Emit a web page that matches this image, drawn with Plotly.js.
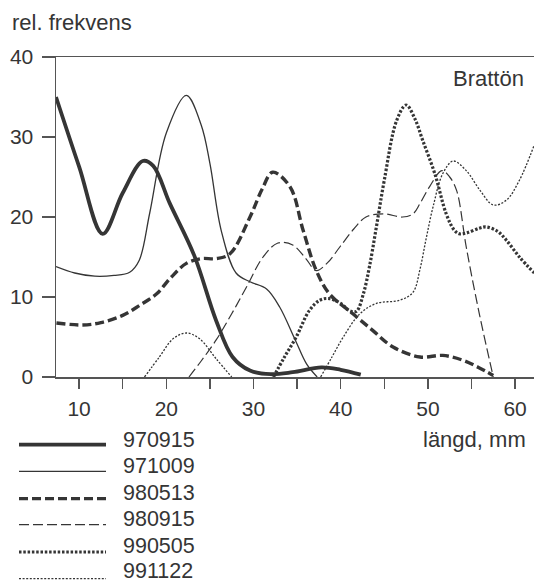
<!DOCTYPE html>
<html>
<head>
<meta charset="utf-8">
<script src="https://cdn.plot.ly/plotly-3.0.1.min.js"></script>
<style>
html,body{margin:0;padding:0;background:#fff;}
#chart{width:534px;height:584px;}
</style>
</head>
<body>
<div id="chart"></div>
<script>
// ---- data ----
const seriesNames = ["970915", "971009", "980513", "980915", "990505", "991122"];

const x970915 = [7.35, 10, 12.7, 15, 17.3, 18.5, 20.4, 23.2, 25.7, 27.6, 29.6, 32, 34.5, 37.8, 40, 42.3];
const y970915 = [35, 26.3, 17.9, 23.0, 27, 26.4, 21.7, 15.2, 7.1, 2.5, 0.8, 0.35, 0.6, 1.2, 0.9, 0.3];

const x971009 = [7.35, 9.5, 11.8, 14, 15.8, 16.9, 18.1, 20, 22.3, 24, 25, 26.3, 28, 29.6, 31.5, 33, 34.8, 36.1, 37.3];
const y971009 = [13.8, 13.0, 12.6, 12.7, 13.1, 14.6, 20.5, 30.5, 35.2, 31.5, 26.7, 18.3, 13.0, 11.9, 11.0, 8.75, 4.6, 1.6, 0];

const x980513 = [7.4, 10.4, 12.5, 15, 17, 18.9, 20.5, 22.3, 24, 25.7, 27.3, 29.6, 31, 32.2, 34.2, 35.7, 37.2, 38.7, 41.4, 43.7, 46, 49.1, 51.7, 54, 55.8, 57.5];
const y980513 = [6.75, 6.5, 6.8, 7.7, 9, 10.4, 12.4, 14.2, 14.8, 14.8, 15.4, 20, 23.5, 25.6, 23.75, 18.3, 13.3, 10.4, 7.9, 5.8, 3.75, 2.5, 2.7, 2.1, 1.2, 0.2];

const x980915 = [22.6, 24, 25.7, 27.5, 29.2, 31.1, 32.8, 34.5, 36, 37.2, 38.5, 39.9, 41.5, 42.9, 44.9, 47.1, 48.3, 49.1, 50.2, 51.6, 52.5, 53.3, 54.4, 55.9, 57.5];
const y980915 = [0, 2, 4.6, 7.9, 11.25, 15, 16.75, 16.5, 14.8, 13.3, 14.3, 16.25, 18.5, 20, 20.4, 20, 20.4, 21.7, 23.8, 25.8, 25.0, 23.3, 16.25, 7.9, 0];

const x990505 = [32.3, 33.5, 34.9, 36.4, 37.6, 38.7, 40, 41, 41.8, 42.6, 43.3, 44.1, 45, 46.4, 47.5, 48.5, 49.4, 50.8, 52.1, 53, 53.6, 54.4, 55.9, 56.7, 58, 59, 60.5, 62.2];
const y990505 = [0, 2.4, 5, 8.3, 9.6, 9.8, 9.2, 8.3, 8.2, 10.4, 13.8, 18.8, 24.6, 32, 34, 32.3, 29.6, 25.4, 20.4, 18.4, 17.9, 18.0, 18.6, 18.75, 18.2, 17.1, 15, 13.0];

const x991122 = [17.5, 19.2, 20.8, 22.3, 23.8, 25.7, 27.5, null, 37.7, 39, 40.3, 42.2, 44.1, 46.8, 48.3, 49.1, 49.8, 50.6, 51.7, 52.9, 54.4, 56, 57.5, 59, 60.5, 62.2];
const y991122 = [0, 2.5, 4.8, 5.5, 4.8, 2.3, 0, null, 0, 2.5, 5, 7.9, 9.2, 9.6, 10.6, 13.5, 17.3, 21.3, 25.4, 27, 25.8, 23.3, 21.5, 22.1, 24.6, 29];

const xTickVals = [10, 15, 20, 25, 30, 35, 40, 45, 50, 55, 60];
const xTickText = ["10", "", "20", "", "30", "", "40", "", "50", "", "60"];
const yTickVals = [0, 10, 20, 30, 40];

const yTitle = "rel. frekvens";
const xTitle = "längd, mm";
const siteLabel = "Brattön";

// ---- styling ----
const ink = "#353535";
const axisInk = "#555555";
const FONT = "Liberation Sans, Arial, sans-serif";
const styles = [
  {width: 3.8, dash: "solid"},
  {width: 1.3, dash: "solid"},
  {width: 3.4, dash: "9px,4px"},
  {width: 1.2, dash: "10px,4px"},
  {width: 3.2, dash: "2.5px,1.8px"},
  {width: 1.3, dash: "2px,1.6px"}
];
const xs = [x970915, x971009, x980513, x980915, x990505, x991122];
const ys = [y970915, y971009, y980513, y980915, y990505, y991122];

const traces = seriesNames.map((name, i) => ({
  type: "scatter",
  mode: "lines",
  name: name,
  x: xs[i],
  y: ys[i],
  connectgaps: false,
  line: {color: ink, width: styles[i].width, dash: styles[i].dash, shape: "spline", smoothing: 1},
  showlegend: false,
  hoverinfo: "skip"
}));

// plot box in pixels
const W = 534, H = 584;
const L = 56, R = 534, T = 56.7, B = 376.7;
const px2x = p => (p - L) / (R - L);
const py2y = p => (B - p) / (B - T);

// hand-drawn style legend at the bottom-left
const legLineY = [444.3, 471, 498.3, 524.3, 551.7, 578.3];
const legTextY = [439.5, 466, 492.5, 519, 545.5, 571];
const shapes = [];
const annotations = [];
seriesNames.forEach((name, i) => {
  shapes.push({
    type: "line", xref: "paper", yref: "paper",
    x0: px2x(19), x1: px2x(106), y0: py2y(legLineY[i]), y1: py2y(legLineY[i]),
    line: {color: ink, width: styles[i].width, dash: styles[i].dash}
  });
  annotations.push({
    xref: "paper", yref: "paper", x: px2x(122), y: py2y(legTextY[i]),
    xanchor: "left", yanchor: "middle", showarrow: false, borderpad: 0,
    text: name, font: {family: FONT, size: 21.5, color: ink}
  });
});
annotations.push({
  xref: "paper", yref: "paper", x: px2x(10), y: py2y(22),
  xanchor: "left", yanchor: "middle", showarrow: false,
  text: yTitle, font: {family: FONT, size: 22, color: ink}
});
annotations.push({
  xref: "paper", yref: "paper", x: px2x(526), y: py2y(78),
  xanchor: "right", yanchor: "middle", showarrow: false,
  text: siteLabel, font: {family: FONT, size: 22, color: ink}
});
annotations.push({
  xref: "paper", yref: "paper", x: px2x(528), y: py2y(439),
  xanchor: "right", yanchor: "middle", showarrow: false,
  text: xTitle, font: {family: FONT, size: 22, color: ink}
});

const layout = {
  width: W, height: H,
  margin: {l: L, r: W - R, t: T, b: H - B, pad: 0},
  paper_bgcolor: "#ffffff",
  plot_bgcolor: "#ffffff",
  showlegend: false,
  font: {family: FONT, color: ink},
  xaxis: {
    range: [7.35, 62.17],
    tickmode: "array", tickvals: xTickVals, ticktext: xTickText,
    ticks: "outside", ticklen: 10, tickwidth: 1.5, tickcolor: axisInk,
    showline: true, linecolor: axisInk, linewidth: 1.5, mirror: true,
    showgrid: false, zeroline: false,
    tickfont: {family: FONT, size: 21, color: ink},
    ticklabelstandoff: 2,
    fixedrange: true
  },
  yaxis: {
    range: [0, 40],
    tickmode: "array", tickvals: yTickVals,
    ticks: "outside", ticklen: 13, tickwidth: 1.5, tickcolor: axisInk,
    showline: true, linecolor: axisInk, linewidth: 1.5,
    showgrid: false, zeroline: false,
    tickfont: {family: FONT, size: 21, color: ink},
    ticklabelstandoff: 4,
    fixedrange: true
  },
  shapes: shapes,
  annotations: annotations
};

Plotly.newPlot("chart", traces, layout, {staticPlot: true, displayModeBar: false});
</script>
</body>
</html>
